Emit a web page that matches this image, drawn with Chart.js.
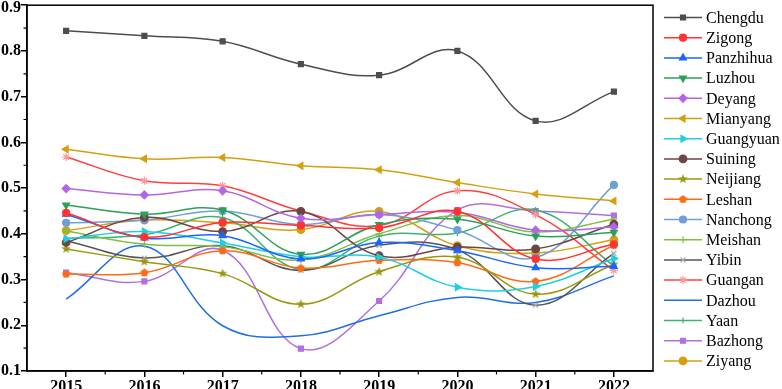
<!DOCTYPE html>
<html>
<head>
<meta charset="utf-8">
<script src="https://cdn.jsdelivr.net/npm/chart.js@4.4.1/dist/chart.umd.min.js"></script>
<style>
html,body{margin:0;padding:0;background:#fff;}
#wrap{width:782px;height:389px;position:relative;}
</style>
</head>
<body>
<div id="wrap"><canvas id="c" width="782" height="389"></canvas></div>
<script>
const years = ['2015','2016','2017','2018','2019','2020','2021','2022'];
const yTicks = [0.1,0.2,0.3,0.4,0.5,0.6,0.7,0.8,0.9];

const chengdu   = [0.844,0.833,0.821,0.771,0.747,0.800,0.647,0.711];
const zigong    = [0.446,0.393,0.425,0.418,0.413,0.449,0.345,0.377];
const panzhihua = [0.443,0.391,0.396,0.345,0.381,0.363,0.326,0.329];
const luzhou    = [0.463,0.443,0.452,0.355,0.420,0.432,0.395,0.403];
const deyang    = [0.499,0.485,0.494,0.434,0.442,0.447,0.408,0.415];
const mianyang  = [0.585,0.564,0.567,0.549,0.540,0.512,0.487,0.472];
const guangyuan = [0.389,0.405,0.380,0.350,0.349,0.283,0.285,0.346];
const suining   = [0.381,0.436,0.405,0.449,0.352,0.371,0.367,0.421];
const neijiang  = [0.367,0.339,0.313,0.246,0.317,0.349,0.268,0.333];
const leshan    = [0.312,0.315,0.363,0.325,0.342,0.337,0.296,0.375];
const nanchong  = [0.424,0.430,0.450,0.420,0.442,0.408,0.348,0.507];
const meishan   = [0.406,0.377,0.372,0.343,0.400,0.440,0.404,0.432];
const yibin     = [0.385,0.347,0.374,0.320,0.375,0.365,0.244,0.357];
const guangan   = [0.568,0.516,0.505,0.450,0.418,0.494,0.442,0.320];
const dazhou    = [0.257,0.373,0.199,0.177,0.221,0.261,0.250,0.308];
const yaan      = [0.390,0.398,0.435,0.322,0.395,0.402,0.452,0.330];
const bazhong   = [0.315,0.296,0.364,0.149,0.253,0.452,0.450,0.440];
const ziyang    = [0.407,0.430,0.424,0.409,0.449,0.374,0.358,0.387];

function makeMarker(kind, color, size){
  const c = document.createElement('canvas');
  c.width = size; c.height = size;
  const g = c.getContext('2d');
  g.fillStyle = color;
  const cx = size/2, cy = size/2, R = size/2;
  g.beginPath();
  if (kind === 'star') {
    for (let i=0;i<10;i++){
      const r = i%2===0 ? R : R*0.42;
      const a = -Math.PI/2 + i*Math.PI/5;
      const x = cx + r*Math.cos(a), y = cy + r*Math.sin(a);
      i===0 ? g.moveTo(x,y) : g.lineTo(x,y);
    }
  } else {
    for (let i=0;i<5;i++){
      const a = -Math.PI/2 + i*2*Math.PI/5;
      const x = cx + R*0.95*Math.cos(a), y = cy + R*0.95*Math.sin(a);
      i===0 ? g.moveTo(x,y) : g.lineTo(x,y);
    }
  }
  g.closePath(); g.fill();
  return c;
}
const starMarker = makeMarker('star','#999910',10);
const pentMarker = makeMarker('pent','#ff6a14',9);

const seriesDefs = [
  ['Chengdu',  chengdu,  '#4d4d4d','#4d4d4d','rect',0,3.5],
  ['Zigong',   zigong,   '#ff3333','#ff3333','circle',0,3.5],
  ['Panzhihua',panzhihua,'#1a66ff','#1a66ff','triangle',0,4],
  ['Luzhou',   luzhou,   '#2ca05a','#2ca05a','triangle',180,4],
  ['Deyang',   deyang,   '#b266e6','#b266e6','rectRot',0,4],
  ['Mianyang', mianyang, '#d4a012','#d4a012','triangle',-90,4],
  ['Guangyuan',guangyuan,'#1fcfe0','#1fcfe0','triangle',90,4],
  ['Suining',  suining,  '#6e4545','#6e4545','circle',0,3.8],
  ['Neijiang', neijiang, '#999910','#999910',starMarker,0,4],
  ['Leshan',   leshan,   '#ff6a14','#ff6a14',pentMarker,0,4],
  ['Nanchong', nanchong, '#6e9fd6','#6e9fd6','circle',0,3.5],
  ['Meishan',  meishan,  '#80c040','#80c040','cross',0,3.5],
  ['Yibin',    yibin,    '#555555','#aaaaaa','crossRot',0,3.5],
  ['Guangan',  guangan,  '#ff4040','#ff9999','star',0,4],
  ['Dazhou',   dazhou,   '#2070e0','#2070e0','circle',0,0],
  ['Yaan',     yaan,     '#3cb371','#3cb371','cross',0,3],
  ['Bazhong',  bazhong,  '#b070e0','#b070e0','rect',0,3.5],
  ['Ziyang',   ziyang,   '#d4a012','#d4a012','circle',0,3.8]
];

const datasets = seriesDefs.map(d => ({
  label: d[0],
  data: d[1],
  borderColor: d[2],
  backgroundColor: d[3],
  pointBackgroundColor: d[3],
  pointBorderColor: d[3],
  pointStyle: d[4],
  rotation: d[5],
  pointRadius: d[6],
  pointHoverRadius: d[6],
  pointBorderWidth: 1.2,
  borderWidth: 1.5,
  tension: 0.4,
  fill: false
}));

const serif = '"Liberation Serif","Times New Roman",serif';

const decor = {
  id: 'decor',
  afterDraw(chart){
    const ctx = chart.ctx;
    const a = chart.chartArea;
    const ys = chart.scales.y, xs = chart.scales.x;
    ctx.save();
    ctx.strokeStyle = '#000';
    ctx.lineWidth = 1.5;
    ctx.strokeRect(a.left, a.top, a.right - a.left, a.bottom - a.top);
    ctx.lineWidth = 1.2;
    ctx.beginPath();
    for (let i=0;i<yTicks.length-1;i++){
      const v = (yTicks[i]+yTicks[i+1])/2;
      const y = ys.getPixelForValue(v);
      ctx.moveTo(a.left-3.5, y); ctx.lineTo(a.left, y);
    }
    for (let i=0;i<years.length-1;i++){
      const x = (xs.getPixelForValue(i) + xs.getPixelForValue(i+1))/2;
      ctx.moveTo(x, a.bottom); ctx.lineTo(x, a.bottom+3.5);
    }
    ctx.stroke();
    const x0 = 664, x1 = 702, tx = 706, y0 = 17.5, dy = 20.2;
    ctx.font = '16px ' + serif;
    ctx.textBaseline = 'middle';
    ctx.textAlign = 'left';
    chart.data.datasets.forEach((ds, i) => {
      const y = y0 + i*dy;
      ctx.strokeStyle = ds.borderColor;
      ctx.lineWidth = 1.5;
      ctx.beginPath(); ctx.moveTo(x0, y); ctx.lineTo(x1, y); ctx.stroke();
      if (ds.pointRadius > 0) {
        ctx.fillStyle = ds.pointBackgroundColor;
        ctx.strokeStyle = ds.pointBorderColor;
        ctx.lineWidth = 1.2;
        Chart.helpers.drawPoint(ctx, {pointStyle: ds.pointStyle, rotation: ds.rotation, radius: ds.pointRadius, borderWidth: 1.2}, (x0+x1)/2, y);
      }
      ctx.fillStyle = '#000';
      ctx.fillText(ds.label, tx, y + 1);
    });
    ctx.restore();
  }
};

new Chart(document.getElementById('c'), {
  type: 'line',
  data: { labels: years, datasets: datasets },
  options: {
    responsive: false,
    animation: false,
    devicePixelRatio: 1,
    layout: { padding: { top: 5, right: 129, left: 0, bottom: 0 } },
    plugins: { legend: { display: false }, tooltip: { enabled: false } },
    scales: {
      x: {
        type: 'category',
        offset: true,
        grid: { offset: false, drawOnChartArea: false, drawTicks: true, tickLength: 6, color: '#000', lineWidth: 1.5 },
        border: { display: true, color: '#000', width: 1.5 },
        ticks: { color: '#000', font: { family: serif, weight: 'bold', size: 16 }, padding: 0, maxRotation: 0, autoSkip: false },
        afterFit(s){ s.height = 18; }
      },
      y: {
        min: 0.1, max: 0.9,
        afterBuildTicks(s){ s.ticks = yTicks.map(v => ({value: v})); },
        grid: { drawOnChartArea: false, drawTicks: true, tickLength: 6, color: '#000', lineWidth: 1.5 },
        border: { display: true, color: '#000', width: 1.5 },
        ticks: {
          color: '#000',
          font: { family: serif, weight: 'bold', size: 16, lineHeight: 0.3 },
          padding: 0,
          callback: v => {
            const s = Number(v).toFixed(1);
            return Number(v) >= 0.89 ? ['', s] : s;
          }
        },
        afterFit(s){ s.width = 27; }
      }
    }
  },
  plugins: [decor]
});
</script>
</body>
</html>
